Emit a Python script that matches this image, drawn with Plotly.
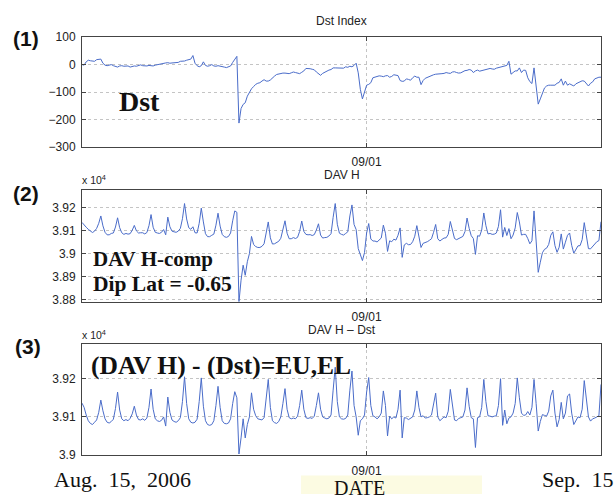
import numpy as np
import pandas as pd
import plotly.graph_objects as go

# ---- data: 3-hourly samples from 2006-08-15 00UT to 2006-09-15 00UT ----
start_time = "2006-08-15 00:00"
step = "3h"

# DAV H - Dst (nT), one row per day: 00,03,06,09,12,15,18,21 UT
euel = [
    39136, 39125, 39105, 39090, 39083, 39080, 39086, 39092,  # Aug 15
    39112, 39144, 39116, 39095, 39086, 39084, 39088, 39094,  # Aug 16
    39122, 39165, 39118, 39095, 39090, 39093, 39090, 39096,  # Aug 17
    39108, 39128, 39105, 39093, 39092, 39095, 39091, 39097,  # Aug 18
    39125, 39173, 39120, 39095, 39090, 39088, 39091, 39100,  # Aug 19
    39076, 39152, 39112, 39092, 39088, 39086, 39090, 39098,  # Aug 20
    39140, 39205, 39135, 39095, 39086, 39084, 39086, 39094,  # Aug 21
    39140, 39202, 39128, 39090, 39080, 39078, 39080, 39090,  # Aug 22
    39130, 39180, 39125, 39090, 39083, 39082, 39084, 39095,  # Aug 23
    39135, 39166, 39150, 39003, 39045, 39095, 39045, 39080,  # Aug 24
    39100, 39163, 39120, 39103, 39095, 39093, 39092, 39098,  # Aug 25
    39150, 39198, 39125, 39090, 39085, 39083, 39088, 39100,  # Aug 26
    39135, 39174, 39120, 39098, 39095, 39097, 39095, 39102,  # Aug 27
    39130, 39170, 39120, 39098, 39096, 39098, 39096, 39102,  # Aug 28
    39130, 39163, 39120, 39100, 39097, 39095, 39097, 39105,  # Aug 29
    39170, 39230, 39140, 39100, 39095, 39094, 39096, 39105,  # Aug 30
    39170, 39220, 39130, 39100, 39052, 39090, 39095, 39105,  # Aug 31
    39165, 39203, 39130, 39103, 39100, 39095, 39100, 39110,  # Sep 1
    39168, 39130, 39050, 39102, 39095, 39100, 39097, 39120,  # Sep 2
    39170, 39045, 39098, 39097, 39093, 39097, 39100, 39118,  # Sep 3
    39168, 39125, 39100, 39103, 39097, 39098, 39100, 39105,  # Sep 4
    39130, 39162, 39100, 39090, 39095, 39100, 39098, 39115,  # Sep 5
    39172, 39125, 39092, 39090, 39096, 39098, 39100, 39118,  # Sep 6
    39176, 39128, 39098, 39095, 39020, 39098, 39100, 39125,  # Sep 7
    39198, 39140, 39103, 39102, 39100, 39102, 39103, 39130,  # Sep 8
    39200, 39078, 39118, 39082, 39097, 39100, 39110, 39135,  # Sep 9
    39202, 39150, 39110, 39104, 39105, 39114, 39105, 39125,  # Sep 10
    39198, 39135, 39063, 39088, 39106, 39104, 39102, 39115,  # Sep 11
    39155, 39170, 39110, 39074, 39093, 39138, 39095, 39110,  # Sep 12
    39155, 39160, 39110, 39080, 39090, 39100, 39098, 39120,  # Sep 13
    39195, 39150, 39100, 39089, 39095, 39097, 39100, 39103,  # Sep 14
    39185,                                                   # Sep 15 00UT
]

# Dst index (nT), same sampling
dst = [
    0, -2, 10, 16, 14, 12, 12, 18,            # Aug 15
    20, 20, 5, -2, -4, -2, 0, -4,             # Aug 16
    -6, -9, -5, -4, -6, -5, -5, -9,           # Aug 17
    -6, -5, -6, -3, -1, -4, -5, -5,           # Aug 18
    -3, -3, -5, -2, 0, 0, 2, 5,               # Aug 19
    6, 7, 5, 6, 7, 7, 8, 12,                  # Aug 20
    12, 13, 16, 18, 20, 33, 5, -4,            # Aug 21
    -8, -4, 10, -3, -6, -4, 0, -5,            # Aug 22
    -6, -4, -5, -6, -9, -11, -9, -5,          # Aug 23
    8, 20, 30, -213, -160, -145, -139, -115,  # Aug 24
    -100, -88, -80, -72, -68, -66, -60, -55,  # Aug 25
    -60, -60, -56, -48, -42, -36, -34, -33,   # Aug 26
    -31, -31, -31, -33, -30, -27, -29, -31,   # Aug 27
    -33, -28, -23, -14, -14, -15, -17, -19,   # Aug 28
    -27, -33, -39, -32, -27, -24, -20, -18,   # Aug 29
    -12, -12, -12, -11, -11, -13, -8, -10,    # Aug 30
    -6, -8, -3, 5, -30, -90, -125, -100,      # Aug 31
    -75, -72, -66, -48, -45, -44, -41, -42,   # Sep 1
    -44, -41, -40, -46, -43, -37, -38, -40,   # Sep 2
    -58, -61, -60, -52, -54, -57, -48, -42,   # Sep 3
    -46, -46, -73, -58, -50, -46, -42, -40,   # Sep 4
    -37, -35, -35, -35, -33, -32, -29, -31,   # Sep 5
    -32, -27, -26, -29, -31, -30, -25, -22,   # Sep 6
    -21, -18, -20, -29, -23, -20, -24, -22,   # Sep 7
    -21, -18, -17, -14, -16, -17, -13, -11,   # Sep 8
    -9, -6, -4, -3, 12, -35, -29, -23,        # Sep 9
    -23, -12, -29, -20, -21, -48, -62, -69,   # Sep 10
    -12, -80, -144, -125, -102, -85, -78, -75,  # Sep 11
    -75, -75, -75, -68, -65, -52, -75, -60,   # Sep 12
    -75, -70, -74, -78, -70, -66, -63, -59,   # Sep 13
    -60, -68, -78, -68, -63, -52, -48, -46,   # Sep 14
    -46,                                      # Sep 15 00UT
]

x_tick_vals = ["2006-09-01"]
x_tick_text = ["09/01"]
dst_ticks = [100, 0, -100, -200, -300]
dst_tick_text = ["100", "0", "\u2212100", "\u2212200", "\u2212300"]
h_ticks = [39200, 39100, 39000, 38900, 38800]
h_tick_text = ["3.92", "3.91", "3.9", "3.89", "3.88"]
e_ticks = [39200, 39100, 39000]
e_tick_text = ["3.92", "3.91", "3.9"]

times = pd.date_range(start_time, periods=len(dst), freq=step)
euel_arr = np.array(euel, dtype=float)
dst_arr = np.array(dst, dtype=float)
davh = euel_arr + dst_arr  # DAV H = (DAV H - Dst) + Dst

W, H = 616, 501
def px(x):
    return x / W
def py(y):
    return 1 - y / H

LINE = "#4a6cc9"
AX = "#444444"
GRID = "#c4c4c4"
TXT = "#222222"
SANS = "Liberation Sans, Arial, sans-serif"
SERIF = "Liberation Serif, Times New Roman, serif"

fig = go.Figure()
fig.add_trace(go.Scatter(x=times, y=dst_arr, mode="lines", line=dict(color=LINE, width=1),
                         xaxis="x", yaxis="y", showlegend=False))
fig.add_trace(go.Scatter(x=times, y=davh, mode="lines", line=dict(color=LINE, width=1),
                         xaxis="x2", yaxis="y2", showlegend=False))
fig.add_trace(go.Scatter(x=times, y=euel_arr, mode="lines", line=dict(color=LINE, width=1),
                         xaxis="x3", yaxis="y3", showlegend=False))

xdom = [px(82), px(601)]
panels = [(31, 144), (188, 303), (347, 461)]

def xax(anchor):
    return dict(domain=xdom, anchor=anchor, type="date",
                range=["2006-08-15 00:00", "2006-09-15 00:00"],
                tickmode="array", tickvals=x_tick_vals, ticktext=x_tick_text,
                ticks="inside", ticklen=4, tickcolor=AX, showline=True, linecolor=AX,
                linewidth=1, mirror="ticks", showgrid=True, gridcolor=GRID, griddash="dot",
                gridwidth=1, zeroline=False, tickfont=dict(family=SANS, size=12, color=TXT),
                ticklabelstandoff=4)

def yax(anchor, dom, rng, tv, tt):
    return dict(domain=dom, anchor=anchor, range=rng, tickmode="array", tickvals=tv,
                ticktext=tt, ticks="inside", ticklen=4, tickcolor=AX, showline=True,
                linecolor=AX, linewidth=1, mirror="ticks", showgrid=True, gridcolor=GRID,
                griddash="dot", gridwidth=1, zeroline=False,
                tickfont=dict(family=SANS, size=12, color=TXT), ticklabelstandoff=3)

layout = dict(width=W, height=H, margin=dict(l=0, r=0, t=0, b=0),
              paper_bgcolor="white", plot_bgcolor="white", showlegend=False)
layout["xaxis"] = xax("y")
layout["xaxis2"] = xax("y2")
layout["xaxis3"] = xax("y3")
layout["yaxis"] = yax("x", [py(panels[0][1]), py(panels[0][0])], [-300, 100], dst_ticks, dst_tick_text)
layout["yaxis2"] = yax("x2", [py(panels[1][1]), py(panels[1][0])], [38792, 39278], h_ticks, h_tick_text)
layout["yaxis3"] = yax("x3", [py(panels[2][1]), py(panels[2][0])], [39000, 39290], e_ticks, e_tick_text)
fig.update_layout(**layout)

fig.add_shape(type="rect", xref="paper", yref="paper", x0=px(301), x1=px(482),
              y0=py(501), y1=py(482), fillcolor="#fcfbe2", line=dict(width=0), layer="below")

def ann(text, x, y, size, family, xanchor="center", bold=False, color="#111111"):
    t = f"<b>{text}</b>" if bold else text
    fig.add_annotation(text=t, x=px(x), y=py(y), xref="paper", yref="paper",
                       xanchor=xanchor, yanchor="middle", showarrow=False,
                       font=dict(family=family, size=size, color=color))

# panel titles
ann("Dst Index", 341.5, 14, 12, SANS, color=TXT)
ann("DAV H", 341.5, 173, 12, SANS, color=TXT)
ann("DAV H \u2013 Dst", 341.5, 332, 12, SANS, color=TXT)
ann("x 10<sup>4</sup>", 80, 177, 10.5, SANS, xanchor="left", color=TXT)
ann("x 10<sup>4</sup>", 80, 337, 10.5, SANS, xanchor="left", color=TXT)

# panel numbers
ann("(1)", 26, 32, 21, SANS, bold=True)
ann("(2)", 26, 192, 21, SANS, bold=True)
ann("(3)", 28, 349, 21, SANS, bold=True)

# in-plot labels
ann("Dst", 139, 97, 28, SERIF, bold=True)
ann("DAV H-comp", 91, 259, 21, SERIF, xanchor="left", bold=True)
ann("Dip Lat = -0.65", 91, 285, 21.5, SERIF, xanchor="left", bold=True)
ann("(DAV H) - (Dst)=EU,EL", 89, 369, 25.5, SERIF, xanchor="left", bold=True)

# date labels
ann("Aug.\u00a0\u00a015,\u00a0\u00a02006", 52, 486, 22, SERIF, xanchor="left")
ann("Sep.\u00a0\u00a015", 616, 486, 22, SERIF, xanchor="right")
ann("DATE", 359, 495, 20, SERIF)

fig.write_html("out.html")
